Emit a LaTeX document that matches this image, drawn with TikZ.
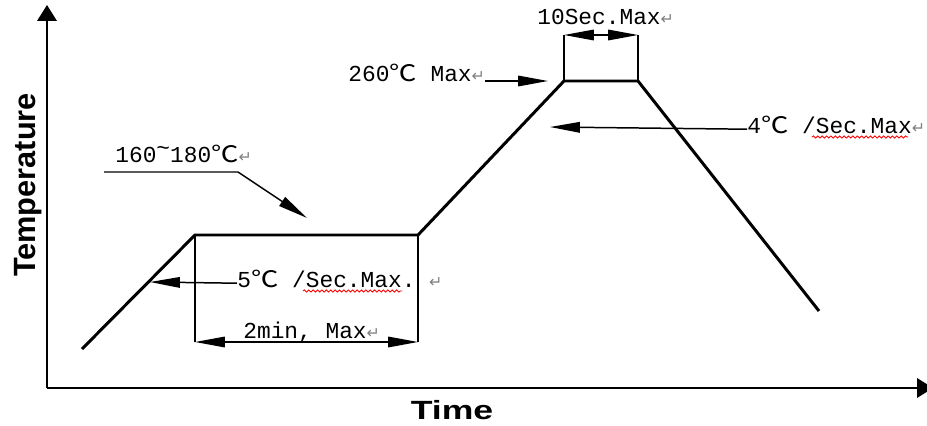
\documentclass[tikz,border=0pt]{standalone}
\usepackage{fontspec}
\usepackage{xcolor}
\usetikzlibrary{arrows.meta, calc, decorations.pathmorphing}
\newfontfamily\monofont{Liberation Mono}
\newfontfamily\cjkfont[FakeStretch=1.2]{Noto Sans CJK SC}
\newfontfamily\markfont{DejaVu Sans}
\newfontfamily\axisfont{Liberation Sans}
\newfontfamily\axiswidefont[FakeStretch=1.35]{Liberation Sans}
\newcommand{\degc}{{\cjkfont ℃}}
\newcommand{\pmark}{{\markfont\color{gray}\fontsize{9pt}{9pt}\selectfont ↵}}

\begin{document}
\begin{tikzpicture}[x=0.02cm, y=-0.02cm,
        lbl/.style={inner sep=0pt, anchor=base west, font=\monofont\fontsize{13pt}{13pt}\selectfont},
        profile/.style={line width=1.7pt},
        axis/.style={line width=1.1pt, -{Triangle[length=9pt, width=11pt]}},
        leader/.style={line width=0.85pt, -{Triangle[length=17pt, width=6pt]}},
        span/.style={line width=0.85pt, {Triangle[length=17pt, width=6pt]}-{Triangle[length=17pt, width=6pt]}},
        ext/.style={line width=0.75pt},
        spell/.style={red, line width=0.5pt, decorate, decoration={snake, amplitude=0.6pt, segment length=2.5pt}}]
        \useasboundingbox (0,0) rectangle (927,426);

        % Axes
        \coordinate (o) at (47,388);
        \coordinate (ytop) at (47,5);
        \coordinate (xend) at (933,388);
        \draw[axis] (o) -- (ytop);
        \draw[axis] (o) -- (xend);
        \node (temp) [rotate=90, anchor=base, inner sep=0pt, font=\axisfont\bfseries\fontsize{17.5pt}{17.5pt}\selectfont] at (35,185) {Temperature};
        \node (time) [anchor=base, inner sep=0pt, font=\axiswidefont\bfseries\fontsize{15pt}{15pt}\selectfont] at (452,419) {Time};

        % Profile
        \coordinate (p0) at (82,349);
        \coordinate (p1) at (195,235);
        \coordinate (p2) at (418,235);
        \coordinate (p3) at (564,81);
        \coordinate (p4) at (638,81);
        \coordinate (p5) at (819,311);
        \draw[profile] (p0) -- (p1) -- (p2) -- (p3) -- (p4) -- (p5);

        % Dimensions
        \coordinate (d1) at (195,342);
        \coordinate (d2) at (418,342);
        \coordinate (d3) at (564,35);
        \coordinate (d4) at (638,35);
        \draw[ext] (p1) -- (d1);
        \draw[ext] (p2) -- (d2);
        \draw[span] (d1) -- (d2);
        \draw[ext] (p3) -- (d3);
        \draw[ext] (p4) -- (d4);
        \draw[span] (d3) -- (d4);

        % Labels
        \node (soak) [lbl] at (115,162) {160\raisebox{0.3em}{\textasciitilde}180\degc\pmark};
        \node (peak) [lbl] at (348,81) {260\degc\ Max\pmark};
        \node (dwell) [lbl] at (537,25) {10Sec.Max\pmark};
        \node (cool) [lbl] at (747,133) {4\degc\ /Sec.Max\pmark};
        \node (heat) [lbl] at (237,287) {5\degc\ /Sec.Max.\ \pmark};
        \node (soaktime) [lbl] at (243,338) {2min, Max\pmark};

        % Arrows
        \coordinate (soakT) at (307,218);
        \coordinate (peakT) at (548,81);
        \coordinate (coolT) at (550,127);
        \coordinate (heatT) at (150,282);
        \draw[leader] ($(soak.base west)+(-11,10)$) -- ($(soak.base west)+(123,10)$) -- (soakT);
        \draw[leader] (peak.base east) -- (peakT);
        \draw[leader] (cool.mid west) -- (coolT);
        \draw[leader] (heat.mid west) -- (heatT);

        % Spelling marks
        \draw[spell] ($(cool.base west)+(65,4)$) -- ($(cool.base west)+(161,4)$);
        \draw[spell] ($(heat.base west)+(66,4)$) -- ($(heat.base west)+(165,4)$);
\end{tikzpicture}
\end{document}
